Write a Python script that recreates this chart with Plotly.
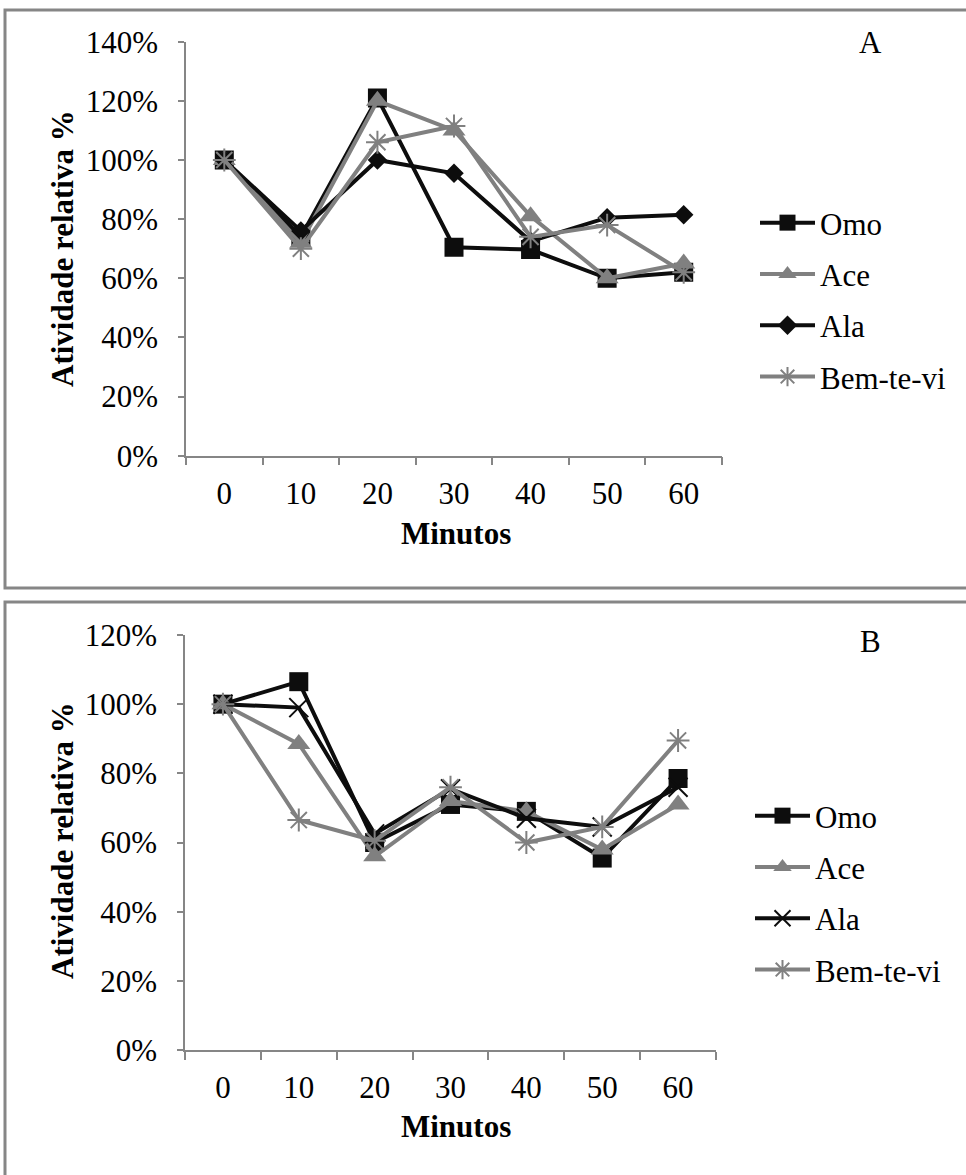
import plotly.graph_objects as go

W, H = 966, 1175

minutos = ["0", "10", "20", "30", "40", "50", "60"]
series_names = ["Omo", "Ace", "Ala", "Bem-te-vi"]

# Panel A values (fraction of relative activity)
a_omo = [1.00, 0.74, 1.21, 0.705, 0.697, 0.60, 0.62]
a_ace = [1.00, 0.72, 1.20, 1.10, 0.81, 0.60, 0.65]
a_ala = [1.00, 0.76, 1.00, 0.955, 0.725, 0.805, 0.815]
a_bem = [1.00, 0.70, 1.06, 1.115, 0.74, 0.78, 0.62]

# Panel B values
b_omo = [1.00, 1.065, 0.60, 0.71, 0.69, 0.555, 0.785]
b_ace = [1.00, 0.885, 0.56, 0.72, 0.69, 0.58, 0.71]
b_ala = [1.00, 0.99, 0.625, 0.755, 0.67, 0.645, 0.76]
b_bem = [1.00, 0.665, 0.605, 0.76, 0.60, 0.645, 0.895]

a_ticks = [0, 0.2, 0.4, 0.6, 0.8, 1.0, 1.2, 1.4]
b_ticks = [0, 0.2, 0.4, 0.6, 0.8, 1.0, 1.2]

BLACK = "#0d0d0d"
GRAY = "#808080"
AXC = "#868686"
FONT = "Liberation Serif"
FS = 31

def px_x(p):
    return p / W

def px_y(p):
    return 1 - p / H

styles_a = [
    dict(color=BLACK, symbol="square", size=19),
    dict(color=GRAY, symbol="triangle-up", size=20),
    dict(color=BLACK, symbol="diamond", size=15),
    dict(color=GRAY, symbol="asterisk-open", size=19),
]
styles_b = [
    dict(color=BLACK, symbol="square", size=19),
    dict(color=GRAY, symbol="triangle-up", size=20),
    dict(color=BLACK, symbol="x-thin-open", size=19),
    dict(color=GRAY, symbol="asterisk-open", size=19),
]

fig = go.Figure()

def add_panel(values, styles, xa, ya, legend, grp):
    for i, (name, vals, st) in enumerate(zip(series_names, values, styles)):
        open_sym = st["symbol"].endswith("open")
        fig.add_trace(go.Scatter(
            x=minutos, y=vals, name=name, mode="lines+markers",
            xaxis=xa, yaxis=ya, legend=legend, legendgroup=f"{grp}{i}",
            line=dict(color=st["color"], width=4),
            marker=dict(symbol=st["symbol"], size=st["size"], color=st["color"],
                        line=dict(color=st["color"], width=2 if open_sym else 0)),
        ))

add_panel([a_omo, a_ace, a_ala, a_bem], styles_a, "x", "y", "legend", "a")
add_panel([b_omo, b_ace, b_ala, b_bem], styles_b, "x2", "y2", "legend2", "b")

common_x = dict(type="category", categoryorder="array", categoryarray=minutos,
                range=[-0.5, 6.5], showline=True, linecolor=AXC, linewidth=1.5,
                ticks="outside", tickson="boundaries", ticklen=8, tickcolor=AXC,
                tickwidth=1.5, showgrid=False, zeroline=False, automargin=False,
                tickfont=dict(family=FONT, size=FS, color="black"),
                ticklabelstandoff=9)
common_y = dict(showline=True, linecolor=AXC, linewidth=1.5, ticks="outside",
                ticklen=6, tickcolor=AXC, tickwidth=1.5, showgrid=False,
                zeroline=False, tickformat=".0%", automargin=False,
                tickfont=dict(family=FONT, size=FS, color="black"),
                ticklabelstandoff=14)

legend_common = dict(font=dict(family=FONT, size=FS, color="black"),
                     bgcolor="rgba(0,0,0,0)", xanchor="left", yanchor="top",
                     tracegroupgap=8, itemwidth=55, traceorder="grouped")

fig.update_layout(
    width=W, height=H, margin=dict(l=0, r=0, t=0, b=0, autoexpand=False),
    paper_bgcolor="white", plot_bgcolor="white",
    xaxis=dict(domain=[px_x(186), px_x(722)], anchor="y", **common_x),
    yaxis=dict(domain=[px_y(455.7), px_y(41.7)], anchor="x", range=[0, 1.4],
               tickvals=a_ticks, **common_y),
    xaxis2=dict(domain=[px_x(185), px_x(716)], anchor="y2", **common_x),
    yaxis2=dict(domain=[px_y(1050), px_y(635)], anchor="x2", range=[0, 1.2],
                tickvals=b_ticks, **common_y),
    legend=dict(x=px_x(755), y=px_y(196), **legend_common),
    legend2=dict(x=px_x(750), y=px_y(789), **legend_common),
    showlegend=True,
)

# panel frames
fig.add_shape(type="rect", xref="paper", yref="paper",
              x0=px_x(5), x1=px_x(975), y0=px_y(588), y1=px_y(10),
              line=dict(color=AXC, width=3), fillcolor="rgba(0,0,0,0)")
fig.add_shape(type="rect", xref="paper", yref="paper",
              x0=px_x(5), x1=px_x(975), y0=px_y(1190), y1=px_y(602),
              line=dict(color=AXC, width=3), fillcolor="rgba(0,0,0,0)")

def ann(text, x, y, bold=False, angle=0):
    fig.add_annotation(text=f"<b>{text}</b>" if bold else text,
                       x=px_x(x), y=px_y(y), xref="paper", yref="paper",
                       showarrow=False, textangle=angle,
                       font=dict(family=FONT, size=FS, color="black"),
                       xanchor="center", yanchor="middle")

ann("A", 870, 42)
ann("B", 870, 641)
ann("Minutos", 456, 533, bold=True)
ann("Minutos", 456, 1126, bold=True)
ann("Atividade relativa %", 62, 249, bold=True, angle=-90)
ann("Atividade relativa %", 62, 841, bold=True, angle=-90)

fig.write_html("out.html")
